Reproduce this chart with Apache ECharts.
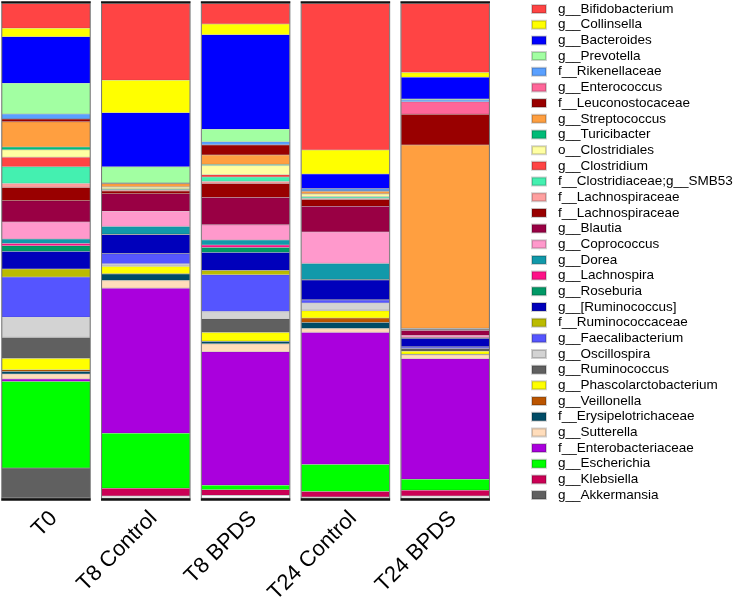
<!DOCTYPE html>
<html>
<head>
<meta charset="utf-8">
<script src="https://cdn.jsdelivr.net/npm/echarts@6/dist/echarts.min.js"></script>
<style>
html,body{margin:0;padding:0;background:#fff;}
#chart{width:734px;height:601px;}
</style>
</head>
<body>
<div id="chart"></div>
<script>
const categories = ['T0', 'T8 Control', 'T8 BPDS', 'T24 Control', 'T24 BPDS'];

const taxa = [
  'g__Bifidobacterium', 'g__Collinsella', 'g__Bacteroides', 'g__Prevotella',
  'f__Rikenellaceae', 'g__Enterococcus', 'f__Leuconostocaceae', 'g__Streptococcus',
  'g__Turicibacter', 'o__Clostridiales', 'g__Clostridium', 'f__Clostridiaceae;g__SMB53',
  'f__Lachnospiraceae', 'f__Lachnospiraceae ', 'g__Blautia', 'g__Coprococcus',
  'g__Dorea', 'g__Lachnospira', 'g__Roseburia', 'g__[Ruminococcus]',
  'f__Ruminococcaceae', 'g__Faecalibacterium', 'g__Oscillospira', 'g__Ruminococcus',
  'g__Phascolarctobacterium', 'g__Veillonella', 'f__Erysipelotrichaceae', 'g__Sutterella',
  'f__Enterobacteriaceae', 'g__Escherichia', 'g__Klebsiella', 'g__Akkermansia'
];

// relative abundance (%) per sample, in taxa order
const t0 = [5.05, 1.7, 9.4, 6.2, 1.0, 0, 0.6, 5.1, 0.55, 1.5, 1.9, 3.4, 0.8, 2.7, 4.3, 3.4,
  0.95, 0.45, 1.15, 3.55, 1.6, 8.1, 4.1, 4.25, 2.3, 0.35, 0.5, 1.0, 0.5, 17.5, 0, 6.05];
const t8Control = [15.55, 6.55, 10.9, 3.3, 0.05, 0.05, 0.05, 0.6, 0.1, 0.35, 0.05, 0.15, 0.2, 0.55, 3.55, 3.1,
  1.55, 0.05, 0.05, 3.8, 0.05, 2.0, 0.45, 0.1, 1.5, 0.05, 1.3, 1.55, 29.3, 11.1, 1.6, 0.05];
const t8BPDS = [4.2, 2.15, 19.1, 2.5, 0.65, 0.05, 2.0, 1.9, 0.2, 1.9, 0.45, 0.9, 0.4, 2.85, 5.5, 3.05,
  1.05, 0.5, 1.0, 3.65, 0.85, 7.4, 1.5, 2.75, 1.75, 0.05, 0.5, 1.6, 26.95, 0.9, 1.15, 0.1];
const t24Control = [29.65, 4.85, 2.9, 0.05, 0.45, 0.05, 0.05, 0.45, 0.1, 0.5, 0.1, 0.3, 0.2, 1.35, 5.2, 6.35,
  3.25, 0.05, 0.05, 4.0, 0.05, 0.6, 1.45, 0.1, 1.5, 0.9, 1.2, 0.8, 26.65, 5.5, 1.1, 0.05];
const t24BPDS = [14.0, 0.95, 4.4, 0.2, 0.35, 2.5, 6.25, 37.0, 0.1, 0.1, 0.05, 0.05, 0.05, 0.1, 1.0, 0.45,
  0.05, 0.05, 0.05, 1.7, 0.05, 0.3, 0.05, 0.5, 0.6, 0.05, 0.05, 0.8, 24.35, 2.2, 1.2, 0.05];

const samples = [t0, t8Control, t8BPDS, t24Control, t24BPDS];

const colors = [
  '#FF4444', '#FFFF00', '#0000FF', '#A2FFA2',
  '#5AA0FF', '#FF6699', '#990000', '#FF9F40',
  '#00BB77', '#FFFFA2', '#FF4444', '#44F0B0',
  '#FFA0A0', '#990000', '#990044', '#FF99CC',
  '#1199AA', '#FF1188', '#009966', '#0000BB',
  '#BBBB00', '#5555FF', '#D3D3D3', '#606060',
  '#FFFF00', '#BB5500', '#004C66', '#FFDDBB',
  '#AA00DD', '#00FF00', '#CC0055', '#606060'
];

const BAR_W = 0.887;

const series = taxa.map((name, i) => ({
  name: name,
  type: 'bar',
  stack: 'total',
  barWidth: (BAR_W * 100) + '%',
  itemStyle: { color: colors[i], borderColor: 'rgba(0,0,0,0.18)', borderWidth: 0.5 },
  emphasis: { disabled: true },
  data: samples.map(s => s[i])
}));

series.push({
  name: 'frame',
  type: 'custom',
  silent: true,
  z: 10,
  data: categories.map((c, i) => [i, 100]),
  encode: { x: 0, y: 1 },
  renderItem: function (params, api) {
    const idx = api.value(0);
    const top = api.coord([idx, 0]);
    const bot = api.coord([idx, api.value(1)]);
    const w = api.size([1, 0])[0] * BAR_W;
    const x0 = top[0] - w / 2;
    return {
      type: 'group',
      children: [
        { type: 'rect', shape: { x: x0, y: top[1], width: w, height: bot[1] - top[1] },
          style: { fill: 'none', stroke: '#777', lineWidth: 1 } },
        { type: 'line', shape: { x1: x0 - 0.5, y1: top[1] - 1, x2: x0 + w + 0.5, y2: top[1] - 1 },
          style: { stroke: '#111', lineWidth: 2 } },
        { type: 'line', shape: { x1: x0 - 0.5, y1: bot[1] + 1.2, x2: x0 + w + 0.5, y2: bot[1] + 1.2 },
          style: { stroke: '#111', lineWidth: 2.5 } }
      ]
    };
  }
});

const chart = echarts.init(document.getElementById('chart'), null, { renderer: 'canvas' });
chart.setOption({
  animation: false,
  backgroundColor: '#fff',
  textStyle: { fontFamily: 'Liberation Sans, Arial, sans-serif' },
  grid: { left: -3.9, top: 3.3, width: 499, height: 495, containLabel: false, outerBoundsMode: 'none' },
  legend: {
    orient: 'vertical',
    left: 531,
    top: 1.2,
    padding: 0,
    itemWidth: 14,
    itemHeight: 8,
    itemGap: 0,
    icon: 'rect',
    selectedMode: false,
    data: taxa,
    textStyle: { fontSize: 13.5, color: '#000', lineHeight: 15.68, padding: [0, 0, 0, 7],
      fontFamily: 'Liberation Sans, Arial, sans-serif' }
  },
  xAxis: {
    type: 'category',
    data: categories,
    position: 'bottom',
    axisLine: { show: false, onZero: false },
    axisTick: { show: false },
    axisLabel: { rotate: 45, fontSize: 22, color: '#000', margin: 9, interval: 0,
      verticalAlign: 'top', fontFamily: 'Liberation Sans, Arial, sans-serif' }
  },
  yAxis: {
    type: 'value',
    min: 0,
    max: 100,
    inverse: true,
    show: false,
    splitLine: { show: false }
  },
  series: series
});
</script>
</body>
</html>
